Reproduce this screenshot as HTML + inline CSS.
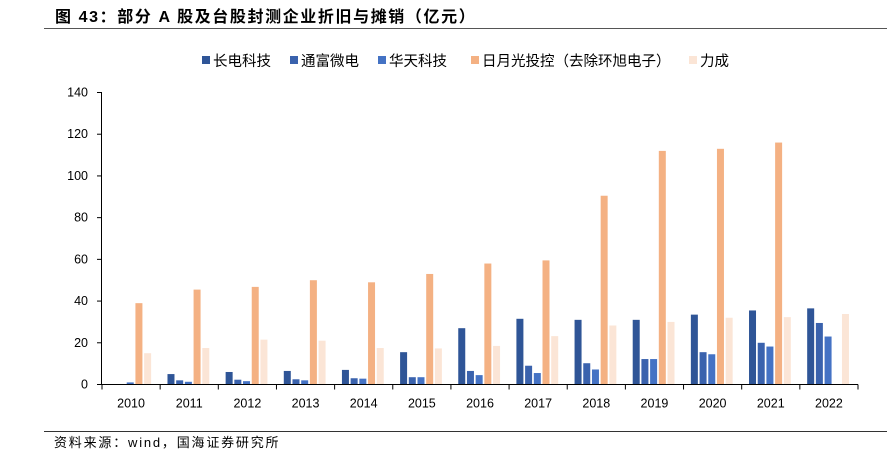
<!DOCTYPE html>
<html><head><meta charset="utf-8"><style>
body{margin:0;background:#fff;}
svg{display:block;font-family:"Liberation Sans","Noto Sans CJK SC",sans-serif;}
</style></head><body>
<svg id="chart" width="887" height="461">
<text x="55" y="22" font-size="16" font-weight="bold" letter-spacing="1.6" fill="#000">图 43：部分 A 股及台股封测企业折旧与摊销（亿元）</text>
<line x1="44" y1="28.5" x2="887" y2="28.5" stroke="#555" stroke-width="1"/>
<g id="legend"></g>
<g id="yaxis"></g>
<g id="bars"></g>
<g id="xaxis"></g>
<line x1="44" y1="431.5" x2="887" y2="431.5" stroke="#333" stroke-width="1"/>
<text x="54" y="447" font-size="13" letter-spacing="1.8" fill="#000">资料来源：wind，国海证券研究所</text>
</svg>
<script>
const categories=["2010","2011","2012","2013","2014","2015","2016","2017","2018","2019","2020","2021","2022"];
const seriesNames=["长电科技","通富微电","华天科技","日月光投控（去除环旭电子）","力成"];
const changdian=[null,5,6,6.5,7,15.5,27,31.5,31,31,33.5,35.5,36.5];
const tongfu=[null,2,2.3,2.5,3,3.5,6.5,9,10.2,12.2,15.5,20,29.5];
const huatian=[1,1.3,1.6,2,2.8,3.5,4.5,5.5,7.2,12.2,14.5,18.2,23];
const ase=[39,45.5,46.8,50,49,53,58,59.5,90.5,112,113,116,null];
const powertech=[15,17.5,21.5,21,17.5,17.3,18.5,23.2,28.3,30,32,32.3,33.8];
const yTicks=[0,20,40,60,80,100,120,140];
const colors=["#2F5597","#3A62AD","#4472C4","#F4B183","#FBE5D6"];
const series=[changdian,tongfu,huatian,ase,powertech];
const NS="http://www.w3.org/2000/svg";
const X0=102,X1=858,Y0=384.5,Y1=92.5,YMAX=140;
const gw=(X1-X0)/categories.length;
const y=v=>Y0-(v/YMAX)*(Y0-Y1);
const xg=i=>X0+i*gw;
function mk(t,a,p){const e=document.createElementNS(NS,t);for(const k in a)e.setAttribute(k,a[k]);p.appendChild(e);return e;}
const ya=document.getElementById('yaxis');
mk('line',{x1:X0-0.5,y1:Y1,x2:X0-0.5,y2:Y0,stroke:'#000','stroke-width':1},ya);
yTicks.forEach(t=>{
 const l=mk('line',{x1:X0-5,y1:y(t),x2:X0,y2:y(t),stroke:'#000'},ya);
 
 
 const tx=mk('text',{x:X0-14,y:y(t)+4,'font-size':12.5,'text-anchor':'end',fill:'#000'},ya);
 tx.textContent=t;
 
 
});
const xa=document.getElementById('xaxis');
mk('line',{x1:X0-1,y1:Y0,x2:X1,y2:Y0,stroke:'#000'},xa);
for(let i=0;i<=categories.length;i++){
 const l=mk('line',{x1:xg(i),y1:Y0,x2:xg(i),y2:Y0+5,stroke:'#000'},xa);
 
 
}
categories.forEach((c,i)=>{
 const t=mk('text',{x:xg(i)+gw/2,y:Y0+23,'font-size':12.5,'text-anchor':'middle',fill:'#000'},xa);
 t.textContent=c;
 
 
});
const bg=document.getElementById('bars');
const step=8.7,bw=7,pad=(gw-step*5)/2;
series.forEach((s,si)=>{
 s.forEach((v,i)=>{
  if(v==null)return;
  const r=mk('rect',{x:xg(i)+pad+si*step,y:y(v),width:bw,height:Y0-y(v),fill:colors[si]},bg);
  
  
 });
});
const lg=document.getElementById('legend');
const lx=[202,290,378,471,689];
seriesNames.forEach((n,i)=>{
 const r=mk('rect',{x:lx[i],y:56,width:8,height:8,fill:colors[i]},lg);
 
 
 const t=mk('text',{x:lx[i]+11,y:66,'font-size':14.5,fill:'#000'},lg);
 t.textContent=n;
 
 
});
</script>
</body></html>
